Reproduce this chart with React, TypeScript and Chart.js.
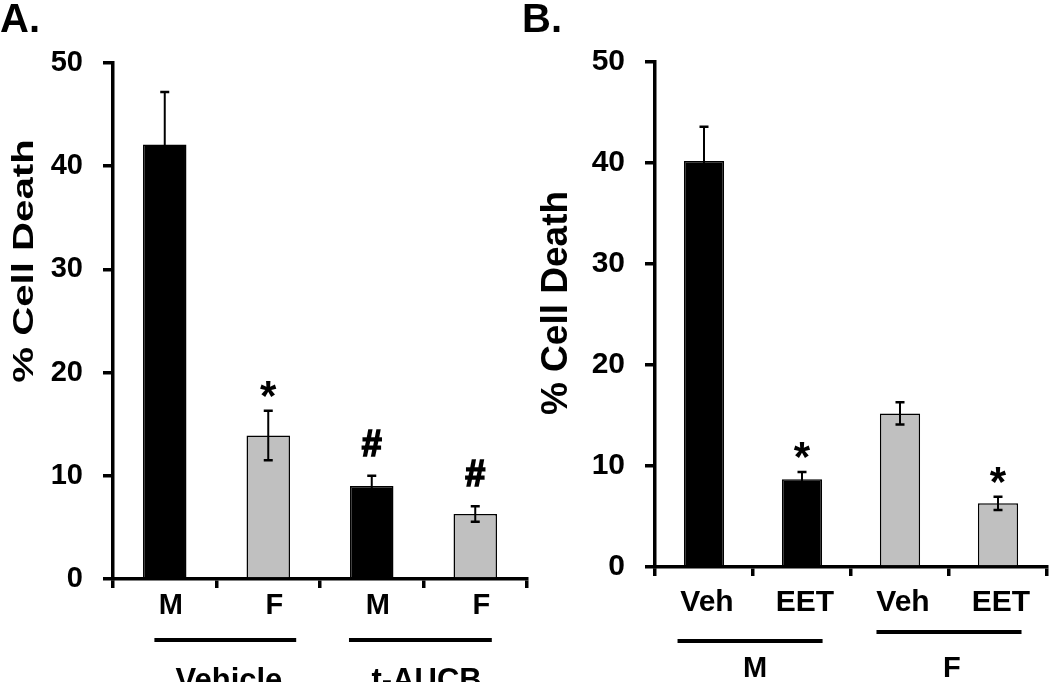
import React, { useEffect, useRef } from 'react';
import { Chart, registerables } from 'chart.js';
Chart.register(...registerables);

const FONT = '"Liberation Sans", Arial, Helvetica, sans-serif';
const BLACK = '#000000';
const GREY = '#c0c0c0';

// ---- Panel A data ----
const categoriesA = ['M', 'F', 'M', 'F'];
const valuesA = [42.1, 13.9, 9.0, 6.3];
const errorsA = [5.1, 2.4, 1.0, 0.75];
const marksA = ['', '*', '#', '#'];
const groupsA = ['Vehicle', 't-AUCB'];

// ---- Panel B data ----
const categoriesB = ['Veh', 'EET', 'Veh', 'EET'];
const valuesB = [40.2, 8.7, 15.2, 6.3];
const errorsB = [3.4, 0.7, 1.1, 0.65];
const marksB = ['', '*', '', '*'];
const groupsB = ['M', 'F'];

const yMin = 0;
const yMax = 50;
const yStep = 10;
const yTitle = '% Cell Death';

type Panel = {
  label: string;
  labelX: number;
  categories: string[];
  values: number[];
  errors: number[];
  marks: string[];
  groups: string[];
  fills: string[];
  width: number;
  top: number;
  bottom: number;
  left: number;
  rightPad: number;
  yFont: number;
  xFont: number;
  xPad: number;
  xLabelOffset: number;
  barPct: number;
  groupSpans: number[][];
  groupLineOff: number[];
  groupLabelCenters: number[];
  groupLabelOff: number;
  groupFont: number;
  titleX: number;
  titleY: number;
  titleFont: number;
  titleStretch: number;
};

const panelA: Panel = {
  label: 'A.',
  labelX: 0,
  categories: categoriesA,
  values: valuesA,
  errors: errorsA,
  marks: marksA,
  groups: groupsA,
  fills: [BLACK, GREY, BLACK, GREY],
  width: 540,
  top: 63,
  bottom: 579,
  left: 113,
  rightPad: 13,
  yFont: 29,
  xFont: 29,
  xPad: 1,
  xLabelOffset: 6,
  barPct: 0.42,
  groupSpans: [[-0.1, 1.27], [1.78, 3.16]],
  groupLineOff: [61, 61],
  groupLabelCenters: [0.62, 2.53],
  groupLabelOff: 111,
  groupFont: 31,
  titleX: 33,
  titleY: 261,
  titleFont: 30,
  titleStretch: 1.34,
};

const panelB: Panel = {
  label: 'B.',
  labelX: 7,
  categories: categoriesB,
  values: valuesB,
  errors: errorsB,
  marks: marksB,
  groups: groupsB,
  fills: [BLACK, BLACK, GREY, GREY],
  width: 535,
  top: 62,
  bottom: 567,
  left: 140,
  rightPad: 3,
  yFont: 30,
  xFont: 30,
  xPad: 9,
  xLabelOffset: 3,
  barPct: 0.41,
  groupSpans: [[-0.27, 1.21], [1.76, 3.24]],
  groupLineOff: [74, 65],
  groupLabelCenters: [0.52, 2.53],
  groupLabelOff: 110,
  groupFont: 29,
  titleX: 52,
  titleY: 303,
  titleFont: 37,
  titleStretch: 1.0,
};

function buildChart(canvas: HTMLCanvasElement, p: Panel) {
  const H = 682;
  const extras = {
    id: 'extras' + p.label,
    afterDatasetsDraw(chart: any) {
      const ctx = chart.ctx;
      const ys = chart.scales.y;
      const meta = chart.getDatasetMeta(0);
      ctx.save();
      ctx.strokeStyle = '#000';
      ctx.fillStyle = '#000';
      p.values.forEach((v, i) => {
        const e = p.errors[i];
        const cx = meta.data[i].x;
        const yt = ys.getPixelForValue(v + e);
        const yb = ys.getPixelForValue(v - e);
        ctx.lineWidth = 2;
        ctx.beginPath();
        ctx.moveTo(cx, yt);
        ctx.lineTo(cx, yb);
        ctx.stroke();
        ctx.lineWidth = 2.5;
        ctx.beginPath();
        ctx.moveTo(cx - 4.5, yt);
        ctx.lineTo(cx + 4.5, yt);
        ctx.moveTo(cx - 4.5, yb);
        ctx.lineTo(cx + 4.5, yb);
        ctx.stroke();
        const m = p.marks[i];
        if (m) {
          ctx.font = `bold ${m === '*' ? 42 : 36}px ${FONT}`;
          ctx.textAlign = 'center';
          ctx.textBaseline = 'alphabetic';
          const by = yt - (m === '*' ? 1 : 20);
          ctx.fillText(m, cx, by);
          if (m === '#') {
            ctx.lineWidth = 1.6;
            ctx.strokeText(m, cx, by);
          }
        }
      });
      ctx.restore();
    },
    afterDraw(chart: any) {
      const ctx = chart.ctx;
      const xs = chart.scales.x;
      const area = chart.chartArea;
      const x0 = xs.getPixelForValue(0);
      const cw = xs.getPixelForValue(1) - x0;
      ctx.save();
      ctx.strokeStyle = '#000';
      ctx.fillStyle = '#000';
      p.groups.forEach((g, gi) => {
        const [s, e] = p.groupSpans[gi];
        const ly = area.bottom + p.groupLineOff[gi];
        ctx.lineWidth = 4;
        ctx.beginPath();
        ctx.moveTo(x0 + s * cw, ly);
        ctx.lineTo(x0 + e * cw, ly);
        ctx.stroke();
        ctx.font = `bold ${p.groupFont}px ${FONT}`;
        ctx.textAlign = 'center';
        ctx.textBaseline = 'alphabetic';
        ctx.fillText(g, x0 + p.groupLabelCenters[gi] * cw, area.bottom + p.groupLabelOff);
      });
      // y-axis title
      ctx.save();
      ctx.translate(p.titleX, p.titleY);
      ctx.rotate(-Math.PI / 2);
      ctx.scale(p.titleStretch, 1);
      ctx.font = `bold ${p.titleFont}px ${FONT}`;
      ctx.textAlign = 'center';
      ctx.textBaseline = 'alphabetic';
      ctx.fillText(yTitle, 0, 0);
      ctx.restore();
      // panel label
      ctx.font = `bold 40px ${FONT}`;
      ctx.textAlign = 'left';
      ctx.textBaseline = 'alphabetic';
      ctx.fillText(p.label, p.labelX, 32);
      ctx.restore();
    },
  };

  return new Chart(canvas, {
    type: 'bar',
    data: {
      labels: p.categories,
      datasets: [
        {
          data: p.values,
          backgroundColor: p.fills,
          borderColor: '#000',
          borderWidth: 1.5,
          categoryPercentage: 1,
          barPercentage: p.barPct,
        },
      ],
    },
    options: {
      responsive: false,
      animation: false,
      devicePixelRatio: 1,
      layout: { padding: { left: 0, top: p.top, right: p.rightPad, bottom: 0 } },
      plugins: { legend: { display: false }, tooltip: { enabled: false }, title: { display: false } },
      scales: {
        x: {
          type: 'category',
          offset: true,
          grid: {
            offset: true,
            drawOnChartArea: false,
            drawTicks: true,
            tickLength: 9,
            color: '#000',
            lineWidth: 3.5,
          },
          border: { display: true, color: '#000', width: 3.5 },
          ticks: {
            color: '#000',
            font: { family: FONT, size: p.xFont, weight: 'bold' },
            padding: p.xPad,
            labelOffset: p.xLabelOffset,
            maxRotation: 0,
            autoSkip: false,
          },
          afterFit: (scale: any) => {
            scale.height = H - p.bottom;
          },
        },
        y: {
          min: yMin,
          max: yMax,
          grid: {
            drawOnChartArea: false,
            drawTicks: true,
            tickLength: 10,
            color: '#000',
            lineWidth: 3.5,
          },
          border: { display: true, color: '#000', width: 3.5 },
          ticks: {
            stepSize: yStep,
            color: '#000',
            font: { family: FONT, size: p.yFont, weight: 'bold' },
            padding: 20,
          },
          afterFit: (scale: any) => {
            scale.width = p.left;
          },
        },
      },
    },
    plugins: [extras],
  } as any);
}

function PanelCanvas({ p, left }: { p: Panel; left: number }) {
  const ref = useRef<HTMLCanvasElement | null>(null);
  useEffect(() => {
    if (!ref.current) return;
    const chart = buildChart(ref.current, p);
    return () => chart.destroy();
  }, [p]);
  return (
    <canvas
      ref={ref}
      width={p.width}
      height={682}
      style={{ position: 'absolute', left, top: 0, width: p.width, height: 682 }}
    />
  );
}

export default function App() {
  return (
    <div style={{ position: 'absolute', left: 0, top: 0, width: 1050, height: 682, background: '#fff', overflow: 'hidden' }}>
      <PanelCanvas p={panelA} left={0} />
      <PanelCanvas p={panelB} left={515} />
    </div>
  );
}
